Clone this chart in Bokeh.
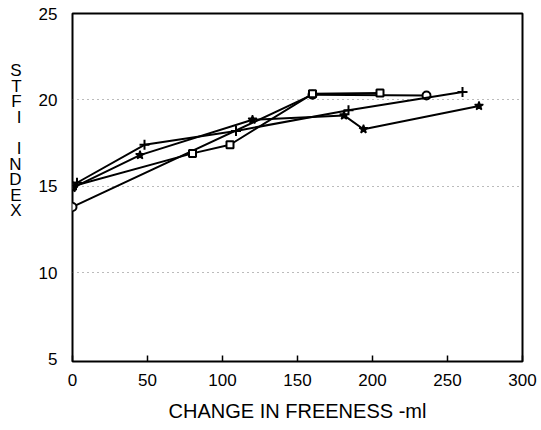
from bokeh.plotting import figure
from bokeh.models import FixedTicker, Range1d
from bokeh.embed import file_html
from bokeh.resources import INLINE

# ---- data ----
circle_x = [0, 160, 236]
circle_y = [13.8, 20.3, 20.25]

square_x = [0, 80, 105, 160, 205]
square_y = [15.0, 16.9, 17.4, 20.35, 20.4]

plus_x = [0, 3, 48, 109, 184, 260]
plus_y = [15.0, 15.2, 17.4, 18.2, 19.4, 20.45]

star_x = [0, 45, 120, 181, 194, 271]
star_y = [14.9, 16.8, 18.85, 19.1, 18.3, 19.65]

x_ticks = [0, 50, 100, 150, 200, 250, 300]
y_ticks = [5, 10, 15, 20, 25]
ylabel_letters = ["S", "T", "F", "I", " ", "I", "N", "D", "E", "X"]
x_label = "CHANGE IN FREENESS -ml"

FONT = "Liberation Sans"
W, H = 541, 430
LEFT, TOP, BOTTOM = 72, 13, 69

p = figure(width=W, height=H, output_backend="svg", toolbar_location=None,
           x_range=Range1d(0, 300), y_range=Range1d(4.85, 25.0),
           min_border_left=LEFT, min_border_right=19, min_border_top=TOP, min_border_bottom=BOTTOM)

p.outline_line_color = "black"
p.outline_line_width = 2
p.background_fill_color = "white"
p.border_fill_color = "white"

# grid
p.xgrid.grid_line_color = None
p.ygrid.grid_line_color = "#777777"
p.ygrid.grid_line_dash = "1 4"
p.ygrid.grid_line_width = 1
p.ygrid.ticker = FixedTicker(ticks=[10, 15, 20])

# axes
p.xaxis.ticker = FixedTicker(ticks=x_ticks)
p.yaxis.ticker = FixedTicker(ticks=y_ticks)
for ax in (p.xaxis[0], p.yaxis[0]):
    ax.axis_line_color = None
    ax.major_label_text_font = FONT
    ax.major_label_text_font_size = "17px"
    ax.major_label_text_color = "black"
    ax.minor_tick_line_color = None
p.xaxis.major_tick_in = 6
p.xaxis.major_tick_out = 0
p.xaxis.major_tick_line_width = 1.5
p.xaxis.major_tick_line_color = "black"
p.xaxis.major_label_standoff = 12
p.yaxis.major_tick_line_color = None
p.yaxis.major_label_standoff = 9
p.xaxis.axis_label = x_label
p.xaxis.axis_label_text_font = FONT
p.xaxis.axis_label_text_font_size = "20px"
p.xaxis.axis_label_text_font_style = "normal"
p.xaxis.axis_label_text_color = "black"
p.xaxis.axis_label_standoff = 11

# stacked, horizontal-letter y label; trailing blank lines lift it above centre
p.yaxis.axis_label = "\n".join(ylabel_letters + [" "] * 6)
p.yaxis.axis_label_orientation = "horizontal"
p.yaxis.axis_label_text_font = FONT
p.yaxis.axis_label_text_font_size = "17px"
p.yaxis.axis_label_text_font_style = "normal"
p.yaxis.axis_label_text_color = "black"
p.yaxis.axis_label_text_line_height = 0.82
p.yaxis.axis_label_text_align = "center"
p.yaxis.axis_label_standoff = 14

# series
lw = 2
p.line(circle_x, circle_y, line_color="black", line_width=lw)
p.scatter(circle_x, circle_y, marker="circle", size=8, fill_color="white", line_color="black", line_width=2)

p.line(square_x, square_y, line_color="black", line_width=lw)
p.scatter(square_x, square_y, marker="square", size=7, fill_color="white", line_color="black", line_width=2)

p.line(plus_x, plus_y, line_color="black", line_width=lw)
p.scatter(plus_x, plus_y, marker="cross", size=10, line_color="black", line_width=2)

p.line(star_x, star_y, line_color="black", line_width=lw)
p.scatter(star_x, star_y, marker="star", size=9, fill_color="black", line_color="black", line_width=1.5)

open("out.html", "w").write(file_html(p, INLINE))
